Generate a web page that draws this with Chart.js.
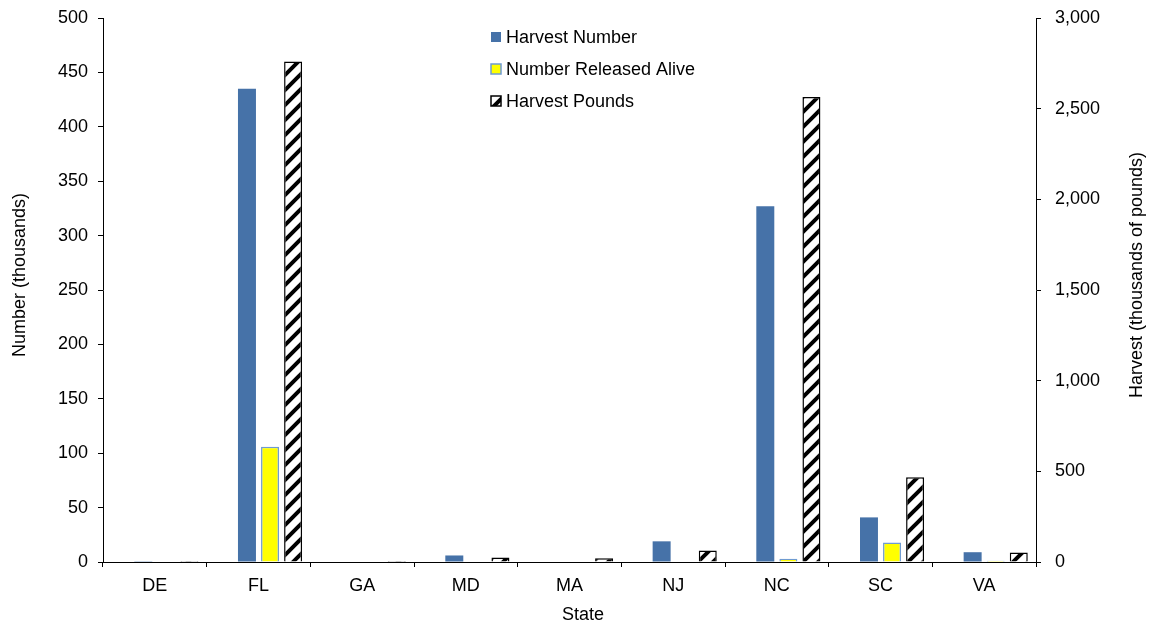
<!DOCTYPE html>
<html>
<head>
<meta charset="utf-8">
<script src="https://cdn.jsdelivr.net/npm/chart.js@4"></script>
<style>
  body { margin: 0; background: #fff; }
  #wrap { width: 1151px; height: 626px; position: relative; }
</style>
</head>
<body>
<div id="wrap"><canvas id="stateChart"></canvas></div>
<script>
const states = ["DE", "FL", "GA", "MD", "MA", "NJ", "NC", "SC", "VA"];
const harvestNumber = [0.2, 435, 0, 6, 0, 19, 327, 41, 9];
const releasedAlive = [0, 106, 0, 0, 0, 0, 3, 18, 1.2];
const harvestPounds = [5, 2760, 5, 25, 20, 63, 2565, 468, 52];
const blankSlot = states.map(() => null);

const FONT = "'Liberation Sans', Arial, sans-serif";

// diagonal hatch for the pounds series
function makeHatch() {
    const s = 15;
    const c = document.createElement('canvas');
    c.width = s; c.height = s;
    const g = c.getContext('2d');
    g.fillStyle = '#fff';
    g.fillRect(0, 0, s, s);
    g.strokeStyle = '#000';
    g.lineWidth = 4;
    g.beginPath();
    g.moveTo(-2, s + 2); g.lineTo(s + 2, -2);
    g.moveTo(-2, 2); g.lineTo(2, -2);
    g.moveTo(s - 2, s + 2); g.lineTo(s + 2, s - 2);
    g.stroke();
    return g.createPattern(c, 'repeat');
}
const hatch = makeHatch();

// legend + axis titles drawn by hand
const extras = {
    id: 'extras',
    afterDraw(chart) {
        const ctx = chart.ctx;
        ctx.save();
        ctx.font = '18px ' + FONT;
        ctx.fillStyle = '#000';
        ctx.textBaseline = 'middle';
        const items = chart.data.datasets.filter(d => d.label);
        items.forEach((d, i) => {
            const y = 37 + i * 32;
            ctx.fillStyle = d.backgroundColor;
            ctx.fillRect(491, y - 5, 10, 10);
            if (d.borderWidth) {
                ctx.strokeStyle = d.borderColor;
                ctx.lineWidth = 1.5;
                ctx.strokeRect(491, y - 5, 10, 10);
            }
            ctx.fillStyle = '#000';
            ctx.textAlign = 'left';
            ctx.fillText(d.label, 506, y + 1);
        });

        ctx.textAlign = 'center';
        ctx.fillText('State', 583, 615);

        ctx.save();
        ctx.translate(20, 275);
        ctx.rotate(-Math.PI / 2);
        ctx.fillText('Number (thousands)', 0, 0);
        ctx.restore();

        ctx.save();
        ctx.translate(1137, 275);
        ctx.rotate(-Math.PI / 2);
        ctx.fillText('Harvest (thousands of pounds)', 0, 0);
        ctx.restore();
        ctx.restore();
    }
};

const axisGrid = {
    drawOnChartArea: false,
    drawTicks: true,
    tickLength: 5,
    color: '#000'
};

function fixWidth(w) {
    return s => {
        s.width = w;
        s.paddingTop = 0;
        s.paddingBottom = 0;
    };
}

const ctx = document.getElementById('stateChart').getContext('2d');
const chart = new Chart(ctx, {
    type: 'bar',
    data: {
        labels: states,
        datasets: [{
            label: '',
            data: blankSlot,
            yAxisID: 'y',
            backgroundColor: 'rgba(0,0,0,0)'
        }, {
            label: 'Harvest Number',
            data: harvestNumber,
            yAxisID: 'y',
            backgroundColor: '#4672A8',
            borderWidth: 0
        }, {
            label: 'Number Released Alive',
            data: releasedAlive,
            yAxisID: 'y',
            backgroundColor: '#FFFF00',
            borderColor: '#6F9BD1',
            borderWidth: 1.5
        }, {
            label: 'Harvest Pounds',
            data: harvestPounds,
            yAxisID: 'y2',
            backgroundColor: hatch,
            borderColor: '#000',
            borderWidth: 1.5
        }]
    },
    options: {
        responsive: true,
        maintainAspectRatio: false,
        animation: false,
        layout: { padding: { top: 18, left: 0, right: 0, bottom: 0 } },
        datasets: {
            bar: { categoryPercentage: 0.89, barPercentage: 0.78, borderSkipped: 'start' }
        },
        plugins: {
            legend: { display: false },
            tooltip: { enabled: false }
        },
        scales: {
            x: {
                grid: axisGrid,
                border: { display: true, color: '#000', width: 1 },
                ticks: { color: '#000', font: { family: FONT, size: 18 }, padding: 8 },
                afterFit: s => { s.height = 64; s.paddingLeft = 0; s.paddingRight = 0; }
            },
            y: {
                position: 'left',
                min: 0,
                max: 500,
                grid: axisGrid,
                border: { display: true, color: '#000', width: 1 },
                ticks: { stepSize: 50, color: '#000', font: { family: FONT, size: 18 }, padding: 10 },
                afterFit: fixWidth(103)
            },
            y2: {
                position: 'right',
                min: 0,
                max: 3000,
                grid: axisGrid,
                border: { display: true, color: '#000', width: 1 },
                ticks: {
                    stepSize: 500,
                    color: '#000',
                    font: { family: FONT, size: 18 },
                    padding: 14,
                    callback: v => v.toLocaleString('en-US')
                },
                afterFit: fixWidth(115)
            }
        }
    },
    plugins: [extras]
});
</script>
</body>
</html>
